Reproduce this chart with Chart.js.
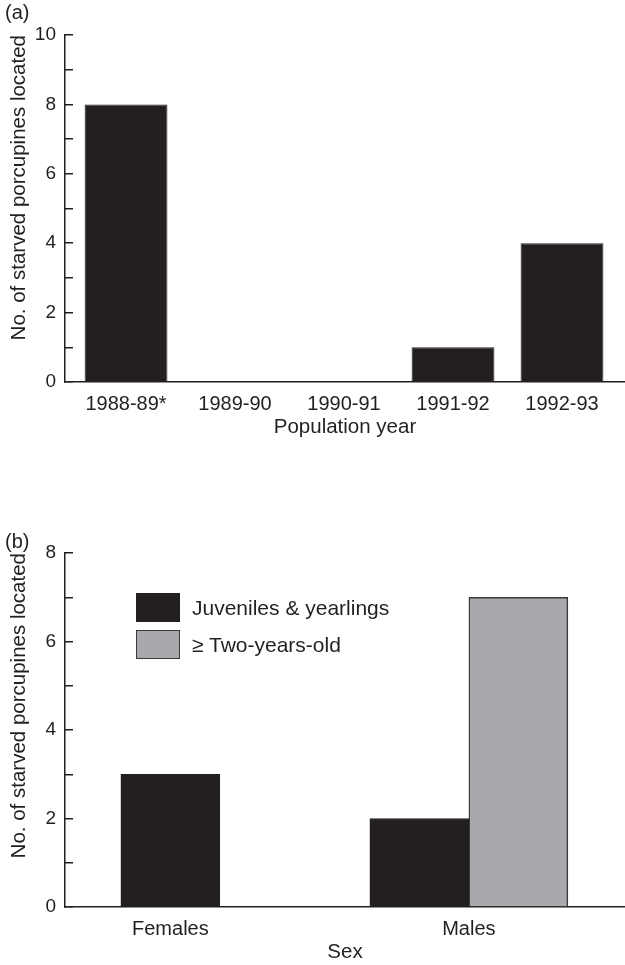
<!DOCTYPE html>
<html>
<head>
<meta charset="utf-8">
<script src="https://cdn.jsdelivr.net/npm/chart.js@4.4.1/dist/chart.umd.min.js"></script>
<style>
  html, body { margin: 0; padding: 0; background: #fff; }
  body { width: 625px; height: 965px; position: relative; overflow: hidden;
         font-family: "Liberation Sans", Arial, Helvetica, sans-serif; color: #231f20; }
  canvas { position: absolute; left: 0; }
  #chartA { top: 0; }
  #chartB { top: 460px; }
  .panel { position: absolute; left: 5px; font-size: 20px; line-height: 1; }
  .legend { position: absolute; left: 136px; top: 593px; font-size: 21px; line-height: 1; }
  .legend .row { display: flex; align-items: center; height: 29px; margin-bottom: 8px; }
  .legend .sw { width: 44px; height: 29px; box-sizing: border-box; margin-right: 12px; }
</style>
</head>
<body>
<canvas id="chartA" width="625" height="440"></canvas>
<canvas id="chartB" width="625" height="505"></canvas>
<div class="panel" style="top:2px">(a)</div>
<div class="panel" style="top:531px">(b)</div>
<div class="legend" id="legendB"></div>
<script>
// (a) starved porcupines found per population year
const yearLabels = ['1988-89*', '1989-90', '1990-91', '1991-92', '1992-93'];
const starvedByYear = [8, 0, 0, 1, 4];
const yTickLabelsA = [0, 2, 4, 6, 8, 10];

// (b) starved porcupines by sex and age class
const sexLabels = ['Females', 'Males'];
const juvenilesYearlings = [3, 2];
const twoYearsOrOlder = [null, 7];
const yTickLabelsB = [0, 2, 4, 6, 8];

const INK = '#231f20';
const GREY = '#a7a9ac';
const FAMILY = '"Liberation Sans", Arial, Helvetica, sans-serif';
const TICK_FONT = { family: FAMILY, size: 20 };
const TITLE_FONT = { family: FAMILY, size: 20.5 };
const Y_TITLE = 'No. of starved porcupines located';

Chart.defaults.font.family = FAMILY;
Chart.defaults.color = INK;

function points(labels, values) {
  return labels.map((_, i) => ({ x: i, y: values[i] }));
}

// category axis built on a linear scale so the bars sit at the printed spacing
function categoryAxis(labels, min, max, title) {
  return {
    type: 'linear', min: min, max: max, offset: false,
    grid: { display: true, drawOnChartArea: false, drawTicks: false, offset: false },
    border: { display: true, color: INK, width: 1.5 },
    ticks: { padding: 10, maxRotation: 0, autoSkip: false, color: INK, font: TICK_FONT,
             callback: v => labels[v] ?? '' },
    afterBuildTicks: s => { s.ticks = labels.map((_, i) => ({ value: i })); },
    afterFit: s => { s.height = 58; },
    title: { display: true, text: title, color: INK, font: TITLE_FONT, padding: { top: 0, bottom: 0 } }
  };
}

function countAxis(max, labelled) {
  return {
    min: 0, max: max,
    ticks: { stepSize: 1, autoSkip: false, padding: 17, color: INK, font: { family: FAMILY, size: 19 },
             callback: v => labelled.includes(v) ? String(v) : '' },
    grid: { display: true, drawOnChartArea: false, drawTicks: true, tickLength: -8,
            color: INK, tickColor: INK, tickWidth: 1.5, lineWidth: 1.5 },
    border: { display: true, color: INK, width: 1.5 },
    afterFit: s => { s.width = 65; },
    title: { display: true, text: Y_TITLE, align: 'end', color: INK, font: TITLE_FONT,
             padding: { top: 7, bottom: 0 } }
  };
}

const baseOptions = {
  responsive: false,
  animation: false,
  devicePixelRatio: 1,
  plugins: { legend: { display: false }, tooltip: { enabled: false } }
};

new Chart(document.getElementById('chartA'), {
  type: 'bar',
  data: {
    datasets: [{
      label: 'Starved porcupines',
      data: points(yearLabels, starvedByYear),
      backgroundColor: INK, borderColor: INK, borderWidth: 1,
      barPercentage: 0.76, categoryPercentage: 1
    }]
  },
  options: {
    ...baseOptions,
    layout: { padding: { top: 35, left: 0, right: 0, bottom: 0 } },
    scales: {
      x: categoryAxis(yearLabels, -0.56, 4.578, 'Population year'),
      y: countAxis(10, yTickLabelsA)
    }
  }
});

const chartB = new Chart(document.getElementById('chartB'), {
  type: 'bar',
  data: {
    datasets: [
      { label: 'Juveniles & yearlings', data: points(sexLabels, juvenilesYearlings),
        backgroundColor: INK, borderColor: INK, borderWidth: 1 },
      { label: '\u2265 Two-years-old', data: points(sexLabels, twoYearsOrOlder),
        backgroundColor: GREY, borderColor: '#3a3a3a', borderWidth: 1.5 }
    ]
  },
  options: {
    ...baseOptions,
    datasets: { bar: { skipNull: true, barThickness: 99 } },
    layout: { padding: { top: 93, left: 0, right: 0, bottom: 0 } },
    scales: {
      x: categoryAxis(sexLabels, -0.353, 1.523, 'Sex'),
      y: countAxis(8, yTickLabelsB)
    }
  }
});

// legend for panel (b), taken from the dataset styles
const legendEl = document.getElementById('legendB');
chartB.data.datasets.forEach(ds => {
  const row = document.createElement('div');
  row.className = 'row';
  const sw = document.createElement('span');
  sw.className = 'sw';
  sw.style.background = ds.backgroundColor;
  sw.style.border = '1.5px solid ' + ds.borderColor;
  const txt = document.createElement('span');
  txt.textContent = ds.label;
  row.appendChild(sw);
  row.appendChild(txt);
  legendEl.appendChild(row);
});
</script>
</body>
</html>
